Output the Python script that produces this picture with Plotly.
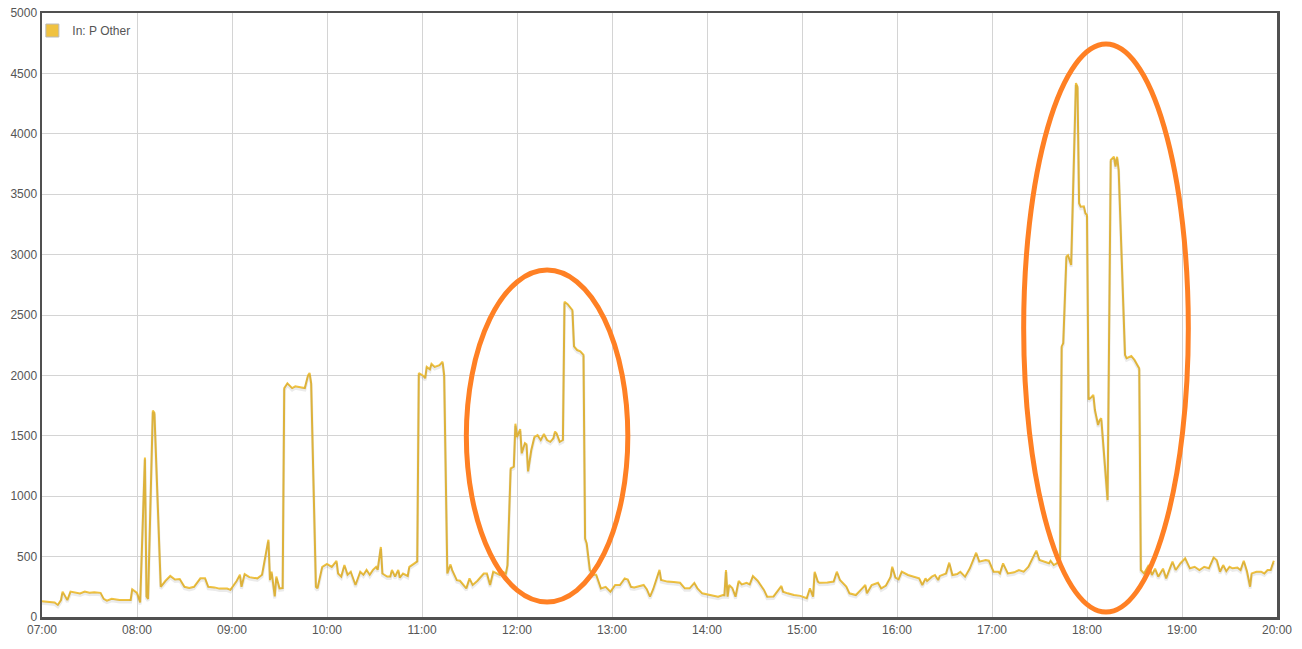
import plotly.graph_objects as go

DAY = "2024-05-01 "
LINE_COLOR = "#F0C240"
RING_COLOR = "#FF8024"
SERIES_NAME = "In: P Other"

# ---- data (HH:MM, watts) ----
times_a = ["07:00", "07:05", "07:08", "07:10", "07:12", "07:13", "07:16", "07:18", "07:21", "07:24",
           "07:27", "07:30", "07:33", "07:37", "07:39", "07:41", "07:44", "07:49", "07:56", "07:57",
           "08:00", "08:02", "08:05", "08:06", "08:07", "08:10", "08:11", "08:15", "08:18", "08:21",
           "08:24", "08:27", "08:30", "08:33", "08:36", "08:40", "08:43", "08:45", "08:49", "08:52",
           "08:57", "08:59", "09:03", "09:05", "09:06", "09:08", "09:11", "09:16", "09:19", "09:23",
           "09:24", "09:25", "09:27", "09:28", "09:30", "09:32", "09:33", "09:35", "09:38", "09:40",
           "09:44", "09:46", "09:48", "09:49", "09:50", "09:53", "09:54", "09:57"]
vals_a = [130, 125, 120, 100, 140, 210, 140, 210, 205, 195,
          210, 200, 205, 200, 150, 135, 150, 140, 140, 230,
          200, 120, 1320, 170, 150, 1710, 1690, 250, 300, 340,
          310, 315, 250, 240, 250, 320, 320, 250, 245, 235,
          235, 225, 300, 350, 250, 355, 330, 320, 350, 640,
          305, 375, 170, 335, 237, 240, 1895, 1935, 1895, 1910,
          1900, 1895, 2000, 2020, 1935, 250, 237, 415]

times_b = ["10:00", "10:03", "10:06", "10:07", "10:09", "10:11", "10:13", "10:15", "10:18", "10:21",
           "10:23", "10:25", "10:27", "10:29", "10:31", "10:32", "10:34", "10:35", "10:38", "10:40",
           "10:41", "10:43", "10:45", "10:46", "10:48", "10:51", "10:52", "10:56", "10:57", "10:58",
           "11:01", "11:02", "11:03", "11:05", "11:06", "11:08", "11:11", "11:13", "11:14", "11:16",
           "11:18", "11:19", "11:22", "11:24", "11:26", "11:28", "11:30", "11:32", "11:35", "11:39",
           "11:41", "11:43", "11:45", "11:49", "11:51", "11:53", "11:54", "11:56", "11:58", "11:59",
           "12:00", "12:02", "12:03", "12:05", "12:06", "12:07", "12:09", "12:10", "12:11", "12:13",
           "12:15", "12:17", "12:19", "12:21", "12:23", "12:24", "12:25", "12:27", "12:29", "12:30",
           "12:32", "12:35", "12:36", "12:38", "12:40", "12:42", "12:43", "12:44", "12:46", "12:48",
           "12:50", "12:53", "12:56", "12:59"]
vals_b = [440, 415, 465, 360, 335, 430, 350, 375, 265, 375,
          350, 390, 350, 390, 415, 390, 580, 360, 335, 335,
          390, 335, 390, 325, 360, 340, 415, 450, 460, 2020,
          1995, 1976, 2070, 2050, 2095, 2070, 2085, 2113, 2000, 360,
          435, 390, 305, 300, 265, 237, 320, 265, 300, 360,
          360, 265, 375, 350, 375, 360, 430, 1230, 1245, 1600,
          1490, 1555, 1355, 1440, 1430, 1205, 1380, 1425, 1490, 1505,
          1465, 1515, 1465, 1450, 1480, 1535, 1520, 1450, 1465, 2610,
          2590, 2540, 2240, 2210, 2200, 2170, 650, 610, 390, 350,
          350, 237, 250, 210]

times_c = ["13:02", "13:05", "13:08", "13:10", "13:12", "13:14", "13:16", "13:20", "13:22", "13:24",
           "13:26", "13:30", "13:31", "13:35", "13:39", "13:43", "13:46", "13:49", "13:52", "13:54",
           "13:57", "14:02", "14:07", "14:10", "14:11", "14:12", "14:13", "14:14", "14:16", "14:18",
           "14:20", "14:22", "14:25", "14:27", "14:29", "14:32", "14:34", "14:36", "14:38", "14:42",
           "14:47", "14:48", "14:51", "14:55", "14:59", "15:03", "15:05", "15:07", "15:08", "15:10",
           "15:11", "15:16", "15:20", "15:22", "15:24", "15:28", "15:30", "15:34", "15:38", "15:40",
           "15:41", "15:44", "15:48", "15:50", "15:53", "15:56", "15:57", "15:59"]
vals_c = [265, 265, 320, 310, 250, 245, 250, 265, 230, 168,
          230, 390, 306, 293, 290, 283, 237, 237, 282, 237,
          196, 182, 168, 182, 180, 389, 168, 265, 240, 168,
          298, 270, 283, 270, 339, 300, 265, 224, 168, 170,
          257, 210, 196, 182, 175, 155, 237, 168, 375, 293,
          283, 285, 293, 375, 306, 251, 196, 182, 237, 265,
          196, 265, 283, 237, 260, 334, 416, 326]

times_d = ["16:01", "16:03", "16:07", "16:10", "16:14", "16:16", "16:18", "16:19", "16:22", "16:24",
           "16:26", "16:27", "16:31", "16:33", "16:35", "16:38", "16:40", "16:43", "16:46", "16:50",
           "16:52", "16:56", "16:58", "17:01", "17:04", "17:05", "17:07", "17:10", "17:14", "17:17",
           "17:20", "17:23", "17:27", "17:28", "17:30", "17:33", "17:36", "17:37", "17:39", "17:41",
           "17:43", "17:44", "17:45", "17:47", "17:48", "17:50", "17:53", "17:54", "17:55", "17:56",
           "17:58", "17:59", "18:00", "18:01", "18:02", "18:04", "18:05", "18:07", "18:08", "18:09",
           "18:13", "18:15", "18:17", "18:18", "18:19", "18:20", "18:24", "18:25", "18:28", "18:30",
           "18:32", "18:33", "18:34", "18:36", "18:39", "18:41", "18:43", "18:45", "18:48", "18:50",
           "18:52", "18:54", "18:56", "18:59", "19:02", "19:05", "19:08", "19:11", "19:14", "19:17",
           "19:20", "19:22", "19:24", "19:26", "19:28", "19:30", "19:32", "19:35", "19:37", "19:39",
           "19:41", "19:43", "19:44", "19:47", "19:50", "19:52", "19:54", "19:56", "19:58"]
vals_d = [312, 375, 348, 334, 320, 265, 320, 298, 334, 348,
          306, 340, 361, 450, 348, 356, 375, 334, 403, 532,
          458, 472, 466, 375, 375, 361, 444, 361, 370, 389,
          375, 416, 527, 549, 472, 461, 445, 466, 430, 445,
          486, 2240, 2266, 2985, 2995, 2915, 4420, 4390, 3425, 3396,
          3400, 3342, 3328, 1800, 1810, 1838, 1713, 1590, 1631, 1645,
          968, 3783, 3810, 3728, 3810, 3700, 2170, 2142, 2160, 2128,
          2072, 2058, 389, 361, 430, 348, 400, 334, 400, 320,
          390, 458, 389, 445, 486, 403, 416, 389, 416, 403,
          494, 470, 375, 430, 380, 416, 403, 410, 389, 466,
          380, 251, 361, 375, 375, 361, 389, 389, 466]

# highlighted regions (time span, value span)
ring_1 = (["11:28", "13:10"], [124, 2872])
ring_2 = (["17:20", "19:04"], [41, 4743])

x_range = ["07:00", "20:00"]
y_ticks = list(range(0, 5001, 500))

times = [DAY + t for t in times_a + times_b + times_c + times_d]
values = vals_a + vals_b + vals_c + vals_d

FONT = "Liberation Sans, Arial, Helvetica, sans-serif"
TXT = "#555555"

fig = go.Figure()
# soft drop shadow under the line (same data on an offset overlay axis)
fig.add_trace(go.Scatter(x=times, y=values, mode="lines", yaxis="y2",
                         line=dict(color="rgba(0,0,0,0.08)", width=3),
                         hoverinfo="skip", showlegend=False))
fig.add_trace(go.Scatter(x=times, y=values, mode="lines", name=SERIES_NAME,
                         line=dict(color=LINE_COLOR, width=2), showlegend=False))
# legend swatch
fig.add_trace(go.Scatter(x=[None], y=[None], mode="markers", name=SERIES_NAME,
                         marker=dict(symbol="square", size=13, color=LINE_COLOR,
                                     line=dict(color="#bbbbbb", width=1))))

for (tx, vy) in (ring_1, ring_2):
    fig.add_shape(type="circle", xref="x", yref="y",
                  x0=DAY + tx[0], x1=DAY + tx[1], y0=vy[0], y1=vy[1],
                  line=dict(color=RING_COLOR, width=5), layer="above")

shadow_shift = 2.0 * 5000 / 604
fig.update_layout(
    width=1302, height=649,
    margin=dict(l=42, r=25, t=13, b=32),
    paper_bgcolor="white", plot_bgcolor="white",
    font=dict(family=FONT, size=12, color=TXT),
    showlegend=True,
    hovermode=False,
    legend=dict(x=-0.0078, y=0.995, xanchor="left", yanchor="top",
                bgcolor="rgba(0,0,0,0)", font=dict(size=12, color=TXT),
                itemwidth=30),
    xaxis=dict(type="date", range=[DAY + x_range[0], DAY + x_range[1]],
               dtick=3600000, tickformat="%H:%M", showgrid=True,
               gridcolor="#d4d4d4", gridwidth=1, showline=True, mirror=True,
               linecolor="#505050", linewidth=2.5, ticks="", zeroline=False,
               automargin=False, ticklabeloverflow="allow",
               tickfont=dict(size=12, color=TXT)),
    yaxis=dict(range=[0, 5000], tickvals=y_ticks, showgrid=True,
               gridcolor="#d4d4d4", gridwidth=1, showline=True, mirror=True,
               linecolor="#505050", linewidth=2.5, ticks="", zeroline=False,
               automargin=False, ticklabeloverflow="allow",
               tickfont=dict(size=12, color=TXT)),
    yaxis2=dict(range=[shadow_shift, 5000 + shadow_shift], overlaying="y",
                visible=False),
)

# drop the browser's default 8px body margin so the figure fills the window
fig.write_html("out.html",
               config={"displayModeBar": False, "staticPlot": True},
               post_script="document.body.style.margin='0';document.body.style.overflow='hidden';")
